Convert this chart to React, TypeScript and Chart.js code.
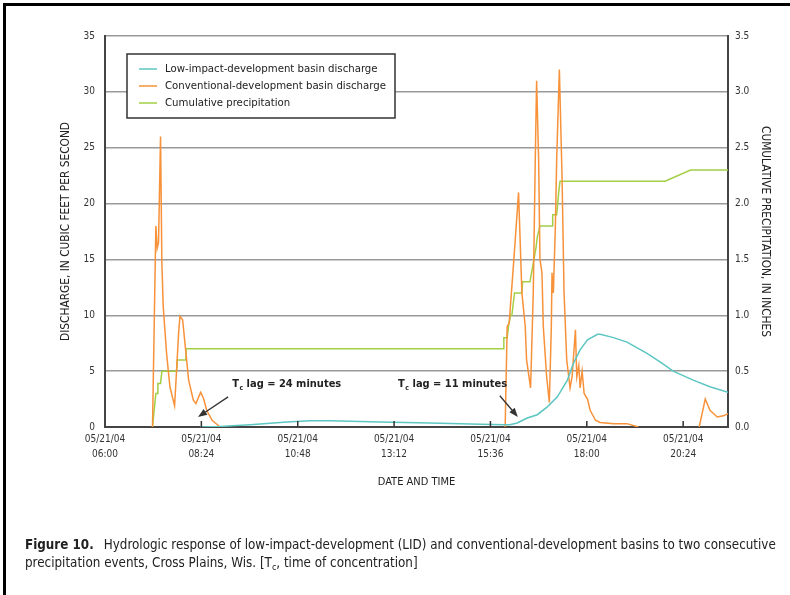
import { useEffect, useRef } from 'react';
import { Chart, registerables } from 'chart.js';

Chart.register(...registerables);

const FONT = '"Liberation Sans Narrow", "DejaVu Sans Condensed", "Arial Narrow", sans-serif';

// x axis: minutes after 05/21/04 06:00
const xTickMinutes = [0, 144, 288, 432, 576, 720, 864];
const xTickDates = ['05/21/04', '05/21/04', '05/21/04', '05/21/04', '05/21/04', '05/21/04', '05/21/04'];
const xTickTimes = ['06:00', '08:24', '10:48', '13:12', '15:36', '18:00', '20:24'];
const xMax = 931;

// Low-impact-development basin discharge (cfs)
const lidTime = [142, 172, 217, 272, 306, 336, 411, 486, 561, 598, 605, 616, 631, 646, 661, 676, 691, 700, 710, 721, 736, 740, 760, 780, 810, 830, 849, 879, 904, 931];
const lidFlow = [0, 0.05, 0.2, 0.45, 0.55, 0.55, 0.45, 0.35, 0.25, 0.2, 0.2, 0.36, 0.8, 1.1, 1.8, 2.7, 4.2, 5.7, 6.9, 7.8, 8.3, 8.3, 8.0, 7.6, 6.6, 5.8, 5.0, 4.2, 3.6, 3.1];

// Conventional-development basin discharge (cfs); null = no flow recorded above the axis
const convTime = [71, 76, 78, 80, 83, 85, 87, 92, 97, 104, 107, 110, 112, 116, 120, 125, 132, 136, 140, 143, 147, 152, 160, 168, 172, 400, 598, 601, 604, 611, 618, 623, 628, 630, 636, 640, 643, 645, 648, 650, 653, 655, 660, 664, 667, 668, 670, 673, 675, 679, 683, 686, 690, 695, 698, 703, 705, 708, 710, 713, 716, 721, 725, 733, 740, 760, 780, 797, 850, 888, 897, 904, 915, 924, 931];
const convFlow = [0, 18, 16, 16.5, 26, 14.7, 10.8, 6.6, 3.6, 1.9, 5.1, 8.4, 9.9, 9.6, 7.2, 4.2, 2.4, 2.1, 2.7, 3.1, 2.6, 1.5, 0.6, 0.2, 0, null, 0, 9, 9.3, 15, 21, 12, 9, 6, 3.5, 12, 24, 31, 24, 15, 13.8, 9, 4.5, 2.2, 9, 13.8, 12, 17.9, 24, 32, 22.4, 12, 6, 3.5, 4.5, 8.7, 4.5, 5.5, 3.5, 5, 3, 2.5, 1.5, 0.6, 0.4, 0.3, 0.3, 0, null, 0, 2.5, 1.5, 0.9, 1.0, 1.2];

// Cumulative precipitation (inches)
const precipTime = [71, 76, 78, 79, 83, 85, 107, 108, 120, 121, 595, 596, 601, 603, 606, 608, 612, 614, 623, 624, 635, 638, 644, 646, 650, 668, 669, 675, 678, 680, 837, 875, 931];
const precipDepth = [0, 0.3, 0.3, 0.39, 0.39, 0.5, 0.5, 0.6, 0.6, 0.7, 0.7, 0.8, 0.8, 0.9, 1.0, 1.0, 1.2, 1.2, 1.2, 1.3, 1.3, 1.4, 1.6, 1.7, 1.8, 1.8, 1.9, 1.9, 2.1, 2.2, 2.2, 2.3, 2.3];

const seriesLabels = [
  'Low-impact-development basin discharge',
  'Conventional-development basin discharge',
  'Cumulative precipitation',
];
const seriesColors = ['#5cc6c2', '#f7923a', '#a3cf45'];

// annotations in data units (minutes, cfs)
const lagNotes = [
  { text: ' lag = 24 minutes', tx: 190, ty: 3.85, ax: 184, ay: 2.7, hx: 139, hy: 0.9 },
  { text: ' lag = 11 minutes', tx: 438, ty: 3.85, ax: 590, ay: 2.8, hx: 617, hy: 0.9 },
];

const pts = (xs: number[], ys: (number | null)[]) => xs.map((x, i) => ({ x, y: ys[i] }));

const overlay = {
  id: 'overlay',
  afterDraw(chart: any) {
    const { ctx, scales, chartArea } = chart;
    const x = scales.x;
    const y = scales.y;
    ctx.save();
    // inward x ticks
    ctx.strokeStyle = '#333';
    ctx.lineWidth = 1.5;
    x.ticks.forEach((t: any) => {
      const px = x.getPixelForValue(t.value);
      if (px <= chartArea.left + 1) return;
      ctx.beginPath();
      ctx.moveTo(px, chartArea.bottom);
      ctx.lineTo(px, chartArea.bottom - 6);
      ctx.stroke();
    });

    // lag annotations
    lagNotes.forEach((n) => {
      const tx = x.getPixelForValue(n.tx);
      const ty = y.getPixelForValue(n.ty);
      ctx.fillStyle = '#222';
      ctx.textBaseline = 'middle';
      ctx.textAlign = 'left';
      ctx.font = `bold 11px ${FONT}`;
      ctx.fillText('T', tx, ty);
      const tw = ctx.measureText('T').width;
      ctx.font = `bold 7px ${FONT}`;
      ctx.fillText('c', tx + tw + 0.5, ty + 4);
      const cw = ctx.measureText('c').width;
      ctx.font = `bold 11px ${FONT}`;
      ctx.fillText(n.text, tx + tw + cw + 0.5, ty);
      // arrow
      const ax = x.getPixelForValue(n.ax);
      const ay = y.getPixelForValue(n.ay);
      const hx = x.getPixelForValue(n.hx);
      const hy = y.getPixelForValue(n.hy);
      const ang = Math.atan2(hy - ay, hx - ax);
      const L = 9;
      const W = 3.5;
      ctx.strokeStyle = '#333';
      ctx.lineWidth = 1.3;
      ctx.beginPath();
      ctx.moveTo(ax, ay);
      ctx.lineTo(hx - Math.cos(ang) * L * 0.8, hy - Math.sin(ang) * L * 0.8);
      ctx.stroke();
      ctx.fillStyle = '#333';
      ctx.beginPath();
      ctx.moveTo(hx, hy);
      ctx.lineTo(hx - Math.cos(ang) * L - Math.sin(ang) * W, hy - Math.sin(ang) * L + Math.cos(ang) * W);
      ctx.lineTo(hx - Math.cos(ang) * L + Math.sin(ang) * W, hy - Math.sin(ang) * L - Math.cos(ang) * W);
      ctx.closePath();
      ctx.fill();
    });

    // legend box
    const bx = chartArea.left + 22;
    const by = chartArea.top + 18;
    const bw = 268;
    const bh = 64;
    ctx.fillStyle = '#fff';
    ctx.fillRect(bx, by, bw, bh);
    ctx.strokeStyle = '#333';
    ctx.lineWidth = 1.5;
    ctx.strokeRect(bx, by, bw, bh);
    chart.data.datasets.forEach((ds: any, i: number) => {
      const ly = by + 15 + i * 17;
      ctx.strokeStyle = ds.borderColor;
      ctx.lineWidth = 1.5;
      ctx.beginPath();
      ctx.moveTo(bx + 12, ly);
      ctx.lineTo(bx + 30, ly);
      ctx.stroke();
      ctx.fillStyle = '#222';
      ctx.font = `11.3px ${FONT}`;
      ctx.textBaseline = 'middle';
      ctx.textAlign = 'left';
      ctx.fillText(ds.label, bx + 38, ly);
    });
    ctx.restore();
  },
};

export default function App() {
  const ref = useRef<HTMLCanvasElement | null>(null);
  useEffect(() => {
    if (!ref.current) return;
    const chart = new Chart(ref.current, {
      type: 'line',
      data: {
        datasets: [
          { label: seriesLabels[0], data: pts(lidTime, lidFlow), borderColor: seriesColors[0], yAxisID: 'y' },
          { label: seriesLabels[1], data: pts(convTime, convFlow), borderColor: seriesColors[1], yAxisID: 'y' },
          { label: seriesLabels[2], data: pts(precipTime, precipDepth), borderColor: seriesColors[2], yAxisID: 'y2' },
        ] as any,
      },
      options: {
        animation: false,
        responsive: false,
        spanGaps: false,
        elements: { point: { radius: 0 }, line: { borderWidth: 1.5, tension: 0 } },
        layout: { padding: { left: 0, right: 0, top: 36, bottom: 95 } },
        plugins: { legend: { display: false }, tooltip: { enabled: false } },
        scales: {
          x: {
            type: 'linear',
            min: 0,
            max: xMax,
            afterBuildTicks: (s: any) => {
              s.ticks = xTickMinutes.map((v) => ({ value: v }));
            },
            afterFit: (s: any) => {
              s.height = 73;
            },
            ticks: {
              autoSkip: false,
              maxRotation: 0,
              padding: 5,
              color: '#333',
              font: { family: FONT, size: 10, lineHeight: 1.5 },
              callback: (v: any) => {
                const i = xTickMinutes.indexOf(Number(v));
                return i >= 0 ? [xTickDates[i], xTickTimes[i]] : '';
              },
            },
            grid: { display: false, drawTicks: false },
            border: { display: true, color: '#444', width: 2 },
            title: {
              display: true,
              text: 'DATE AND TIME',
              color: '#222',
              font: { family: FONT, size: 11 },
              padding: { top: 0, bottom: 11 },
            },
          },
          y: {
            position: 'left',
            min: 0,
            max: 35,
            afterFit: (s: any) => {
              s.width = 105;
            },
            ticks: { stepSize: 5, padding: 10, color: '#333', font: { family: FONT, size: 10 } },
            grid: { color: '#999', lineWidth: 1.5, drawTicks: false },
            border: { display: true, color: '#444', width: 2 },
            title: {
              display: true,
              text: 'DISCHARGE, IN CUBIC FEET PER SECOND',
              color: '#222',
              font: { family: FONT, size: 11.8 },
              padding: { top: 59, bottom: 0 },
            },
          },
          y2: {
            position: 'right',
            min: 0,
            max: 3.5,
            afterFit: (s: any) => {
              s.width = 62;
            },
            ticks: {
              stepSize: 0.5,
              padding: 7,
              color: '#333',
              font: { family: FONT, size: 10 },
              callback: (v: any) => Number(v).toFixed(1),
            },
            grid: { display: false, drawTicks: false },
            border: { display: true, color: '#444', width: 2 },
            title: {
              display: true,
              text: 'CUMULATIVE PRECIPITATION, IN INCHES',
              color: '#222',
              font: { family: FONT, size: 11.8 },
              padding: { top: 18, bottom: 0 },
            },
          },
        },
      } as any,
      plugins: [overlay],
    });
    return () => chart.destroy();
  }, []);

  return (
    <div style={{ position: 'absolute', left: 0, top: 0, width: 790, height: 595, background: '#fff', overflow: 'hidden' }}>
      <canvas ref={ref} width={790} height={595} style={{ position: 'absolute', left: 0, top: 0, width: 790, height: 595 }} />
      <div style={{ position: 'absolute', left: 3, top: 3, width: 800, height: 600, borderTop: '3px solid #000', borderLeft: '3px solid #000', pointerEvents: 'none' }} />
      <div style={{ position: 'absolute', left: 25, top: 536, width: 780, fontFamily: FONT, fontSize: 13.3, lineHeight: '18px', color: '#222', whiteSpace: 'nowrap' }}>
        <div>
          <b>Figure 10.</b>
          <span style={{ display: 'inline-block', width: 10 }} />
          Hydrologic response of low-impact-development (LID) and conventional-development basins to two consecutive
        </div>
        <div>
          precipitation events, Cross Plains, Wis. [T<sub style={{ fontSize: 9, verticalAlign: '-3px', lineHeight: 0 }}>c</sub>, time of concentration]
        </div>
      </div>
    </div>
  );
}
